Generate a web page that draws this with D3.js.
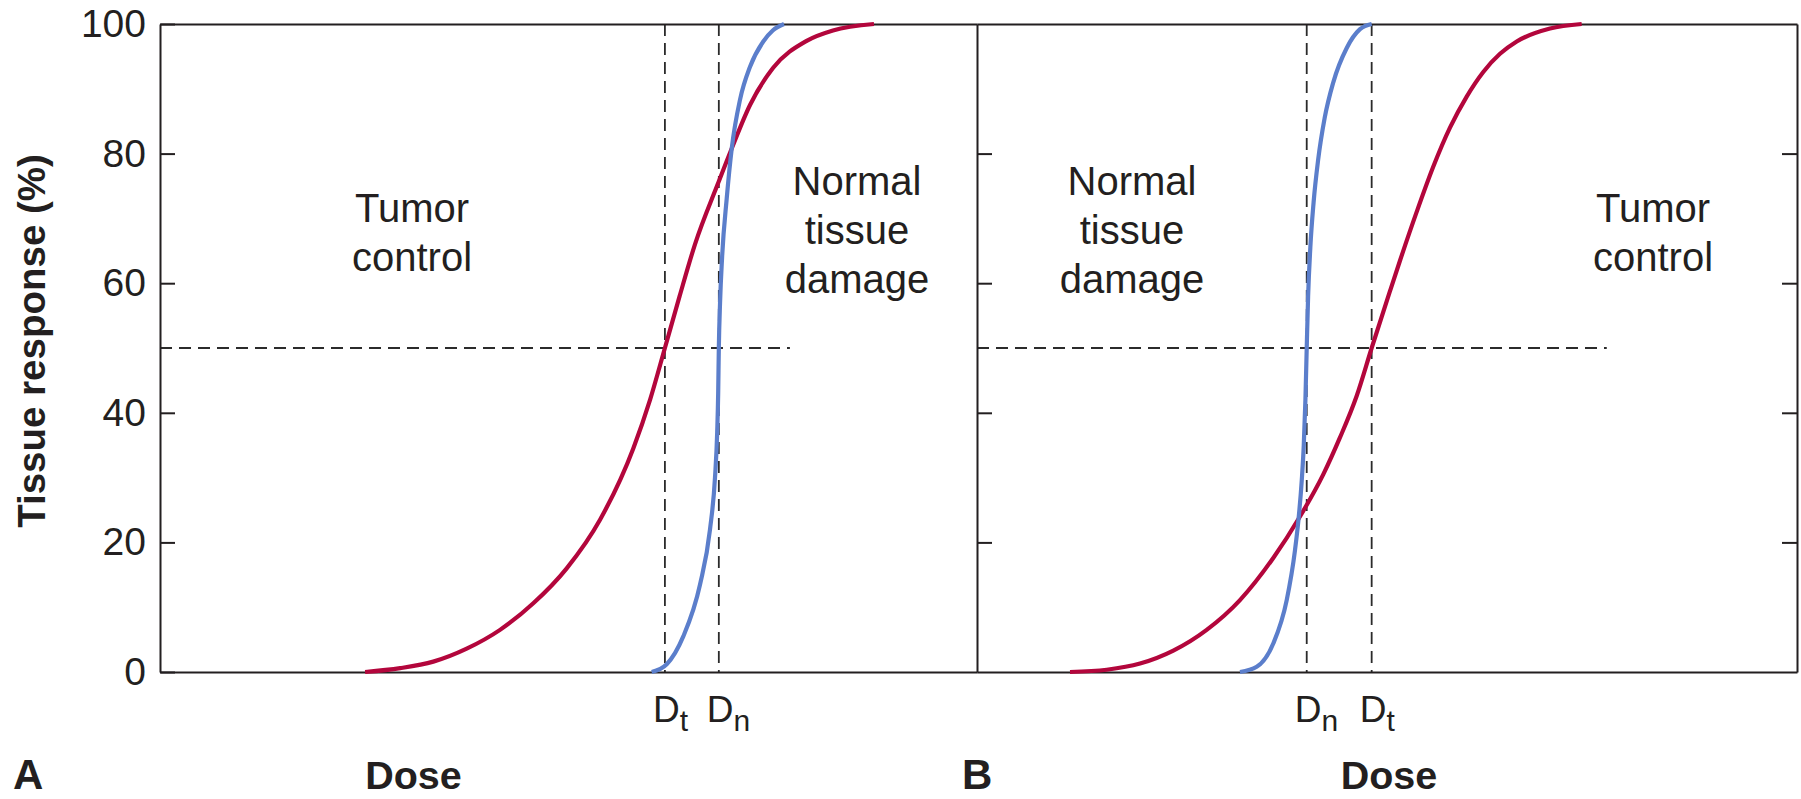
<!DOCTYPE html>
<html>
<head>
<meta charset="utf-8">
<script src="https://cdn.jsdelivr.net/npm/d3@7"></script>
<style>
  html, body { margin: 0; padding: 0; background: #fff; }
  svg { display: block; font-family: "Liberation Sans", Arial, Helvetica, sans-serif; }
</style>
</head>
<body>
<svg id="chart" width="1801" height="799"></svg>
<script>
// ---- Data -------------------------------------------------------------
// Dose is on a relative 0–100 scale across each panel; response in percent.
const responseTicks = [0, 20, 40, 60, 80, 100];
const frameTicks = [20, 40, 60, 80];

// Panel A: tumour responds at a lower dose than normal tissue
const tumorA = [
  [25.1, 0], [29.4, 0.6], [33.45, 1.6], [37.54, 3.6], [41.62, 6.5],
  [45.69, 10.6], [49.78, 16.0], [53.86, 23.5], [57.93, 34.5], [59.98, 42],
  [61.8, 50], [63.6, 58], [65.48, 66], [68.33, 75.5], [69.98, 80.8],
  [72.22, 87.5], [75.03, 93.2], [79.15, 97.4], [82.37, 99.0], [87.39, 100]
];
const normalA = [
  [60.18, 0], [62.02, 1.2], [64.05, 5.5], [66.1, 13.5], [67.32, 22],
  [67.93, 30], [68.2, 37], [68.32, 43], [68.4, 50], [68.55, 57],
  [68.8, 64], [69.36, 73], [69.98, 80.8], [70.99, 88.3], [72.22, 93.4],
  [73.84, 97.3], [75.0, 99.0], [76.38, 100]
];
const markersA = [{ sub: "t", dose: 61.8 }, { sub: "n", dose: 68.4 }];
const halfLineA = [0, 77.1];

// Panel B: normal tissue responds at a lower dose than the tumour
const tumorB = [
  [11.34, 0], [15.82, 0.35], [19.88, 1.3], [23.94, 3.3], [28.01, 6.5],
  [32.07, 11.1], [36.13, 17.6], [39.39, 24.0], [42.23, 30.5], [44.27, 36.2],
  [46.3, 42.6], [48.13, 50], [50.37, 58.8], [51.59, 63.5], [53.62, 71],
  [55.65, 78], [57.68, 84], [59.72, 88.8], [61.74, 92.6], [63.78, 95.4],
  [65.82, 97.3], [69.88, 99.3], [73.74, 100]
];
const normalB = [
  [32.07, 0], [34.11, 0.8], [36.13, 4.4], [37.77, 11.1], [38.78, 18.8],
  [39.18, 23.2], [39.6, 29.5], [39.85, 35], [40.05, 42], [40.21, 50],
  [40.38, 58], [40.65, 65.5], [41.05, 72.5], [41.6, 79], [42.4, 85.5],
  [43.45, 91], [45.09, 96.3], [46.71, 99.2], [48.13, 100]
];
const markersB = [{ sub: "n", dose: 40.21 }, { sub: "t", dose: 48.13 }];
const halfLineB = [0, 76.8];

const halfLevel = 50;

// ---- Styles & layout --------------------------------------------------
const ink = "#231f20";
const tumorColor = "#b3063c";
const normalColor = "#5b7ecb";
const fontMain = '"Liberation Sans", Arial, Helvetica, sans-serif';
const fontNarrow = '"Liberation Sans Narrow", "Arial Narrow", "Liberation Sans", Arial, sans-serif';

const plotTop = 24, plotBottom = 672;
const y = d3.scaleLinear().domain([0, 100]).range([plotBottom, plotTop]);

const panels = [
  {
    x: d3.scaleLinear().domain([0, 100]).range([160, 977]),
    tumor: tumorA, normal: normalA, markers: markersA, half: halfLineA,
    letter: "A", letterX: 13, doseX: 413.5,
    notes: [
      { lines: ["Tumor", "control"], cx: 412, y0: 222 },
      { lines: ["Normal", "tissue", "damage"], cx: 857, y0: 195 }
    ]
  },
  {
    x: d3.scaleLinear().domain([0, 100]).range([977, 1797]),
    tumor: tumorB, normal: normalB, markers: markersB, half: halfLineB,
    letter: "B", letterX: 962, doseX: 1389,
    notes: [
      { lines: ["Normal", "tissue", "damage"], cx: 1132, y0: 195 },
      { lines: ["Tumor", "control"], cx: 1653, y0: 222 }
    ]
  }
];

const svg = d3.select("#chart");

function styleAxis(g) {
  g.selectAll("path.domain").attr("stroke", ink).attr("stroke-width", 2);
  g.selectAll(".tick line").attr("stroke", ink).attr("stroke-width", 2);
}

// ---- Reference lines (drawn beneath the curves) ------------------------
panels.forEach(p => {
  const dash = svg.append("g")
    .attr("stroke", "#2b2b2b").attr("stroke-width", 1.8)
    .attr("stroke-dasharray", "12,7").attr("fill", "none");

  dash.append("line")
    .attr("x1", p.x(p.half[0])).attr("x2", p.x(p.half[1]))
    .attr("y1", y(halfLevel)).attr("y2", y(halfLevel));

  dash.selectAll("line.mark").data(p.markers).join("line")
    .attr("class", "mark")
    .attr("x1", d => p.x(d.dose)).attr("x2", d => p.x(d.dose))
    .attr("y1", y(100)).attr("y2", y(0));
});

// ---- Frame and axes -----------------------------------------------------
panels.forEach(p => {
  svg.append("g").attr("transform", `translate(0,${plotBottom})`)
    .call(d3.axisBottom(p.x).tickValues([]).tickSizeOuter(0)).call(styleAxis);
  svg.append("g").attr("transform", `translate(0,${plotTop})`)
    .call(d3.axisTop(p.x).tickValues([]).tickSizeOuter(0)).call(styleAxis);
});

// Left axis of panel A carries the labels; ticks point inward
svg.append("g").attr("transform", `translate(${panels[0].x(0)},0)`)
  .call(d3.axisLeft(y).tickValues(responseTicks).tickSize(-15).tickSizeOuter(0)
    .tickPadding(14).tickFormat(d => d))
  .call(styleAxis)
  .call(g => g.selectAll(".tick text")
    .attr("font-size", 39).attr("font-family", fontMain).attr("fill", ink));

// Shared divider (ticks into panel B) and right-hand border
svg.append("g").attr("transform", `translate(${panels[1].x(0)},0)`)
  .call(d3.axisRight(y).tickValues(frameTicks).tickSize(15).tickSizeOuter(0).tickFormat(""))
  .call(styleAxis);
svg.append("g").attr("transform", `translate(${panels[1].x(100)},0)`)
  .call(d3.axisLeft(y).tickValues(frameTicks).tickSize(15).tickSizeOuter(0).tickFormat(""))
  .call(styleAxis);

// ---- Curves -----------------------------------------------------------
panels.forEach(p => {
  const line = d3.line()
    .x(d => p.x(d[0])).y(d => y(d[1]))
    .curve(d3.curveMonotoneX);

  svg.append("path").datum(p.tumor)
    .attr("d", line).attr("fill", "none")
    .attr("stroke", tumorColor).attr("stroke-width", 4.2);

  svg.append("path").datum(p.normal)
    .attr("d", line).attr("fill", "none")
    .attr("stroke", normalColor).attr("stroke-width", 4.2);
});

// ---- Text -------------------------------------------------------------
panels.forEach(p => {
  // Dose markers D_t / D_n under the axis
  p.markers.forEach(m => {
    const t = svg.append("text")
      .attr("x", p.x(m.dose) - 12).attr("y", 722)
      .attr("font-size", 37).attr("font-family", fontMain).attr("fill", ink);
    t.append("tspan").text("D");
    t.append("tspan").attr("dy", 9).attr("font-size", 30)
      .attr("font-family", fontNarrow).text(m.sub);
  });

  // Region annotations
  p.notes.forEach(n => {
    const t = svg.append("text")
      .attr("text-anchor", "middle").attr("font-size", 40)
      .attr("font-family", fontMain).attr("fill", ink);
    n.lines.forEach((s, i) => {
      t.append("tspan").attr("x", n.cx).attr("y", n.y0 + i * 49).text(s);
    });
  });

  // Panel letter and x-axis title
  svg.append("text")
    .attr("x", p.letterX).attr("y", 789)
    .attr("font-size", 42).attr("font-weight", "bold")
    .attr("font-family", fontMain).attr("fill", ink).text(p.letter);

  svg.append("text")
    .attr("x", p.doseX).attr("y", 789).attr("text-anchor", "middle")
    .attr("font-size", 39.5).attr("font-weight", "bold")
    .attr("font-family", fontMain).attr("fill", ink).text("Dose");
});

// y-axis title
svg.append("text")
  .attr("transform", "translate(45,341) rotate(-90)")
  .attr("text-anchor", "middle")
  .attr("font-size", 38.5).attr("font-weight", "bold")
  .attr("font-family", fontMain).attr("fill", ink)
  .text("Tissue response (%)");
</script>
</body>
</html>
